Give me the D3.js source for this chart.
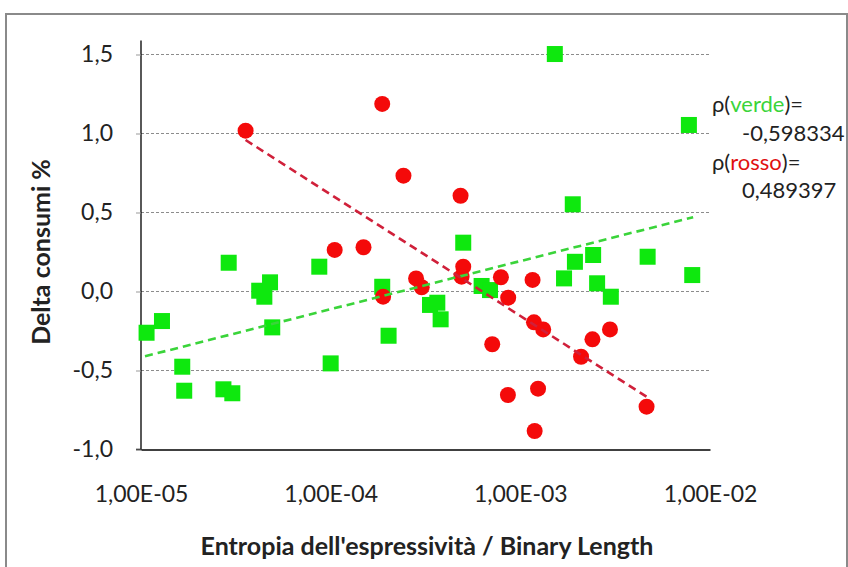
<!DOCTYPE html>
<html>
<head>
<meta charset="utf-8">
<script src="https://cdn.jsdelivr.net/npm/d3@7"></script>
<style>
  html, body { margin: 0; padding: 0; background: #fff; }
  svg { display: block; font-family: Lato, "Open Sans", sans-serif; }
</style>
</head>
<body>
<svg id="chart" width="848" height="567"></svg>
<script>
// Green series (squares): x = entropy / binary length, y = delta consumption %
const greenX = [1.07e-5, 1.29e-5, 1.65e-5, 1.69e-5, 2.72e-5, 3.03e-5, 2.90e-5, 4.20e-5,
  4.79e-5, 4.47e-5, 4.92e-5, 8.71e-5, 1.00e-4, 1.87e-4, 2.02e-4, 3.34e-4, 3.65e-4, 3.80e-4,
  5.00e-4, 6.25e-4, 6.92e-4, 1.52e-3, 1.70e-3, 1.94e-3, 1.89e-3, 2.42e-3, 2.54e-3, 3.00e-3,
  4.69e-3, 7.74e-3, 8.06e-3];
const greenY = [-0.261, -0.187, -0.476, -0.628, -0.619, -0.644, 0.182, 0.005,
  0.058, -0.033, -0.227, 0.157, -0.455, 0.03, -0.28, -0.085, -0.071, -0.176,
  0.309, 0.035, 0.009, 1.503, 0.083, 0.188, 0.552, 0.231, 0.052, -0.033,
  0.22, 1.054, 0.104];

// Red series (circles)
const redX = [3.56e-5, 1.87e-4, 2.42e-4, 1.05e-4, 1.49e-4, 2.82e-4, 3.02e-4, 1.89e-4,
  4.84e-4, 5.00e-4, 4.90e-4, 7.90e-4, 1.16e-3, 8.63e-4, 1.18e-3, 1.32e-3, 7.11e-4,
  2.40e-3, 2.97e-3, 2.09e-3, 8.60e-4, 1.24e-3, 1.19e-3, 4.63e-3];
const redY = [1.018, 1.187, 0.733, 0.263, 0.28, 0.083, 0.027, -0.033,
  0.606, 0.157, 0.094, 0.09, 0.073, -0.039, -0.195, -0.24, -0.334,
  -0.303, -0.24, -0.413, -0.655, -0.615, -0.883, -0.729];

// Logarithmic trendlines (straight on the log axis), given by their end points
const greenTrendX = [1.05e-5, 8.15e-3];
const greenTrendY = [-0.41, 0.47];
const redTrendX = [3.56e-5, 4.63e-3];
const redTrendY = [0.959, -0.666];

// Axis ticks
const xTicks = [1e-5, 1e-4, 1e-3, 1e-2];
const xTickLabels = ["1,00E-05", "1,00E-04", "1,00E-03", "1,00E-02"];
const yTicks = [-1.0, -0.5, 0.0, 0.5, 1.0, 1.5];
const yTickLabels = ["-1,0", "-0,5", "0,0", "0,5", "1,0", "1,5"];

// Correlation annotation
const rhoGreen = "-0,598334";
const rhoRed = "0,489397";

const svg = d3.select("#chart");

// outer frame
svg.append("path")
  .attr("d", "M6,567 L6,14 L847,14 L847,567")
  .attr("fill", "none").attr("stroke", "#8a8a8a").attr("stroke-width", 2);

const x = d3.scaleLog().domain([1e-5, 1e-2]).range([141, 710]);
const y = d3.scaleLinear().domain([-1, 1.5]).range([449.5, 54.5]);

// horizontal gridlines
svg.append("g").selectAll("line")
  .data(yTicks.filter(v => v > -1))
  .join("line")
  .attr("x1", x(1e-5)).attr("x2", x(1e-2))
  .attr("y1", d => y(d)).attr("y2", d => y(d))
  .attr("stroke", "#8c8c8c").attr("stroke-width", 1)
  .attr("stroke-dasharray", "3,2");

// y axis
const yAxis = d3.axisLeft(y).tickValues(yTicks)
  .tickFormat((d, i) => yTickLabels[i]).tickSize(5).tickPadding(23);
const gy = svg.append("g").attr("transform", `translate(${x(1e-5)},0)`).call(yAxis);
gy.select(".domain").attr("stroke", "#000").attr("stroke-width", 1.3)
  .attr("d", `M-5,${y(-1)}H0V${y(1.5) - 14}`);
gy.selectAll(".tick line").attr("stroke", "#999");
gy.selectAll(".tick text").attr("font-size", 23).attr("fill", "#222")
  .attr("font-family", "Lato, sans-serif");

// x axis
const xAxis = d3.axisBottom(x).tickValues(xTicks)
  .tickFormat((d, i) => xTickLabels[i]).tickSize(0).tickPadding(36);
const gx = svg.append("g").attr("transform", `translate(0,${y(-1)})`).call(xAxis);
gx.select(".domain").attr("stroke", "#000").attr("stroke-width", 1.3);
gx.selectAll(".tick text").attr("font-size", 23).attr("fill", "#222")
  .attr("font-family", "Lato, sans-serif");

// green squares
const sq = 16;
svg.append("g").selectAll("rect")
  .data(greenX.map((v, i) => [v, greenY[i]]))
  .join("rect")
  .attr("x", d => x(d[0]) - sq / 2).attr("y", d => y(d[1]) - sq / 2)
  .attr("width", sq).attr("height", sq)
  .attr("fill", "#0ee80e");

// red circles
svg.append("g").selectAll("circle")
  .data(redX.map((v, i) => [v, redY[i]]))
  .join("circle")
  .attr("cx", d => x(d[0])).attr("cy", d => y(d[1])).attr("r", 8)
  .attr("fill", "#f40a0a");

// trendlines
const line = d3.line().x(d => x(d[0])).y(d => y(d[1]));
svg.append("path")
  .datum(greenTrendX.map((v, i) => [v, greenTrendY[i]]))
  .attr("d", line).attr("fill", "none")
  .attr("stroke", "#3ad43a").attr("stroke-width", 2.6).attr("stroke-dasharray", "8,5");
svg.append("path")
  .datum(redTrendX.map((v, i) => [v, redTrendY[i]]))
  .attr("d", line).attr("fill", "none")
  .attr("stroke", "#d0203a").attr("stroke-width", 2.6).attr("stroke-dasharray", "8,5");

// axis titles
svg.append("text")
  .attr("transform", `translate(50,${(y(-1) + y(1.5)) / 2}) rotate(-90)`)
  .attr("text-anchor", "middle").attr("font-size", 25).attr("font-weight", "bold")
  .attr("fill", "#222").text("Delta consumi %");
svg.append("text")
  .attr("x", 427).attr("y", 555)
  .attr("text-anchor", "middle").attr("font-size", 25).attr("font-weight", "bold")
  .attr("fill", "#222").text("Entropia dell'espressività / Binary Length");

// correlation annotation
const ann = svg.append("g").attr("font-size", 22).attr("fill", "#222");
const t1 = ann.append("text").attr("x", 712).attr("y", 112);
t1.append("tspan").text("ρ(");
t1.append("tspan").attr("fill", "#3ad43a").text("verde");
t1.append("tspan").text(")=");
ann.append("text").attr("x", 742).attr("y", 141).text(rhoGreen);
const t2 = ann.append("text").attr("x", 712).attr("y", 170);
t2.append("tspan").text("ρ(");
t2.append("tspan").attr("fill", "#e01010").text("rosso");
t2.append("tspan").text(")=");
ann.append("text").attr("x", 742).attr("y", 198).text(rhoRed);
</script>
</body>
</html>
